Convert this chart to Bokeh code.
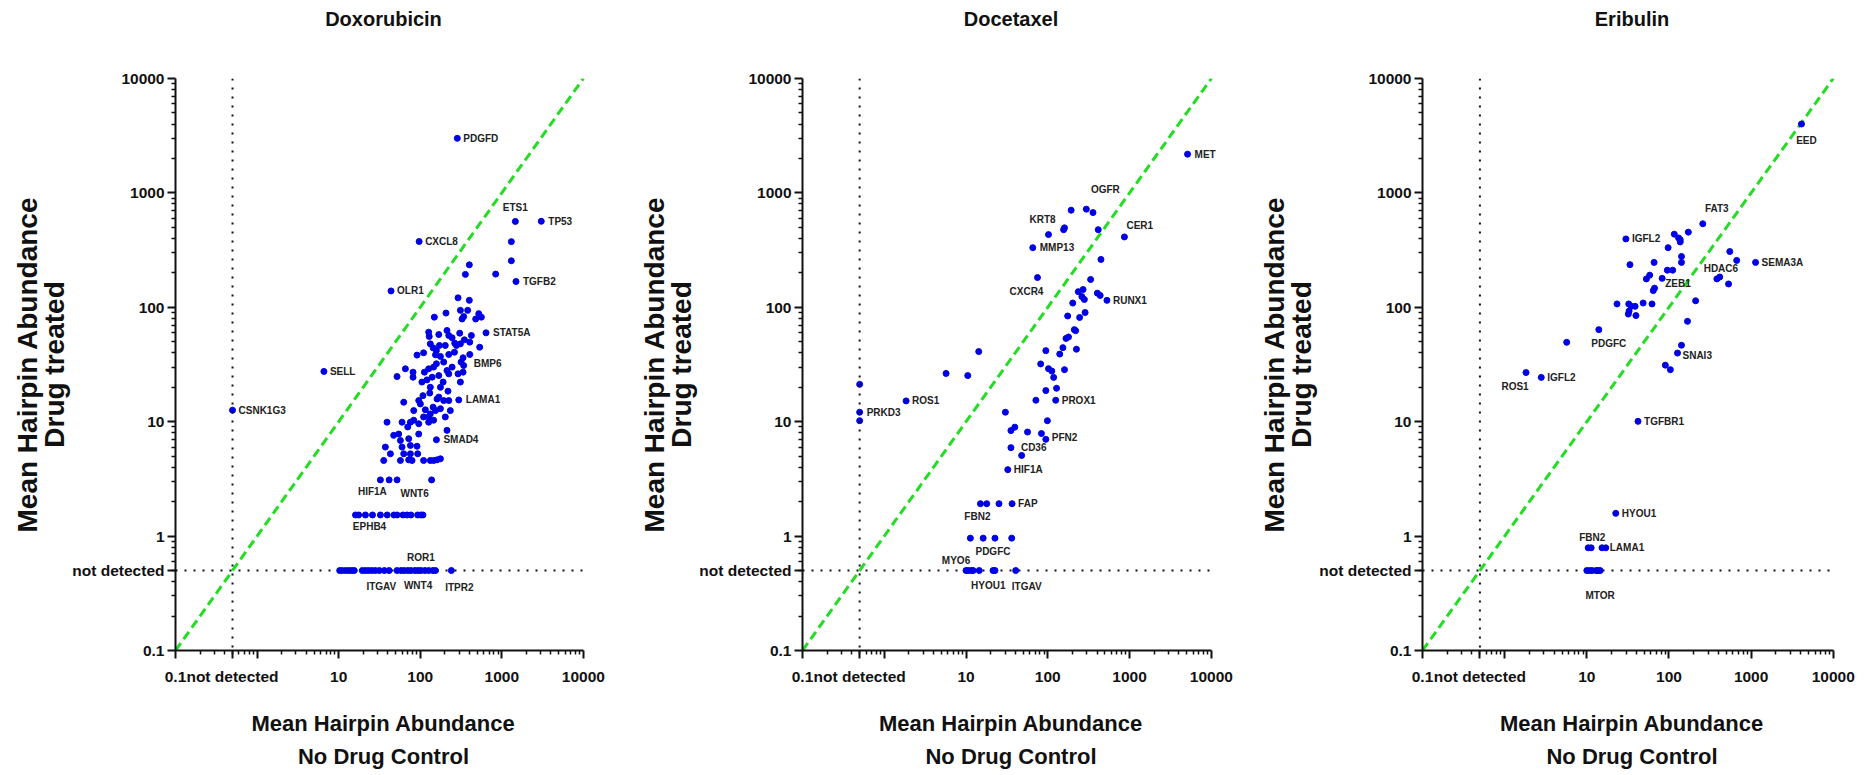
from bokeh.plotting import figure
from bokeh.models import FixedTicker, Span, ColumnDataSource, Title
from bokeh.layouts import row
from bokeh.embed import file_html
from bokeh.resources import INLINE
from bokeh.core.properties import value

FONT = "Liberation Sans"

# ---------------- axis ticks / labels ----------------
major_ticks = [0.1, 0.5, 1, 10, 100, 1000, 10000]
minor_ticks = [k * 10 ** e for e in range(-1, 4) for k in range(2, 10)]
y_tick_labels = {0.1: "0.1", 0.5: "not detected", 1: "1", 10: "10", 100: "100", 1000: "1000", 10000: "10000"}
x_tick_labels = {0.1: "0.1", 0.5: "not detected", 1: "", 10: "10", 100: "100", 1000: "1000", 10000: "10000"}
axis_limits = [0.1, 10000]
not_detected = 0.5

titles = ["Doxorubicin", "Docetaxel", "Eribulin"]
x_title = ["Mean Hairpin Abundance", "No Drug Control"]
y_title = ["Mean Hairpin Abundance", "Drug treated"]

# ---------------- Doxorubicin ----------------
dox_x = [1310, 1310, 400, 358, 842, 291, 400, 311, 382, 207, 149, 326, 341, 479, 522, 562,
         127, 129, 169, 213, 224, 246, 305, 348, 424,
         133, 144, 172, 203, 265, 278, 311, 405, 536,
         91.4, 110, 158, 154, 177, 224, 263, 335,
         65.8, 81.7, 112.6, 127, 146, 158, 194, 213, 246, 317, 341,
         52, 81.7, 105, 121, 140, 169, 191, 224, 291, 335, 311,
         62.8, 83.3, 95.9, 108, 131, 133, 177, 219, 194, 224,
         100.5, 115.7, 127, 144, 161, 169, 146, 133, 154, 177, 203, 234,
         39.2, 59.9, 75.8, 70.3, 83.3, 95.9, 110, 127, 213,
         47.3, 54.5, 57.2, 72.3, 95.9,
         37.4, 59.9, 75.8, 91.4,
         43.1, 62.8, 75.8, 93.2,
         35.7, 57.2, 72.3, 79.4, 110, 133, 146, 161, 177,
         41.6, 52,
         17.6, 21.3, 26, 32.5, 39.4, 47.6, 52, 61.5, 68.8, 76.9, 93, 102, 108,
         10.3, 11.1, 12.2, 13.3, 14.4, 15.5, 19.5, 21.3, 23.2, 25.4, 28.1, 36.4, 41.6, 52,
         58.2, 63.7, 70.4, 76.9, 86, 114, 127, 143, 154]
dox_y = [375, 255, 235, 194, 195, 121, 115, 94, 94, 89, 82, 79, 83, 79, 88, 82,
         60.6, 55.6, 57.8, 62.7, 56.7, 54.1, 59.4, 52, 56.7,
         47.9, 44.2, 46.4, 46.4, 48.6, 46.4, 47.9, 49.6, 44.8,
         38.2, 40, 41.9, 38.4, 37.2, 38.7, 40.5, 36.2,
         29, 27.1, 27.1, 29, 30, 32.1, 33.2, 28, 30, 33.2, 31,
         24.8, 24.5, 22.2, 23.2, 24.5, 25.3, 22.2, 26.2, 26.2, 27.1, 22.2,
         14.8, 12.5, 15.3, 16.9, 17.8, 20, 20, 18.5, 15.3, 15.3,
         14.3, 12.7, 11, 13.4, 15.8, 16.4, 10.3, 11.7, 12.5, 13, 11, 12.5,
         9.9, 9.9, 9.9, 9, 10.3, 9.6, 11, 9.9, 8.4,
         7.6, 7.8, 6.85, 7.1, 7.8,
         6.0, 6.0, 6.2, 6.1,
         5.24, 5.24, 5.24, 5.24,
         4.58, 4.58, 4.64, 4.58, 4.58, 4.58, 4.58, 4.64, 4.74,
         3.1, 3.1,
         1.53, 1.53, 1.53, 1.53, 1.53, 1.53, 1.53, 1.53, 1.53, 1.53, 1.53, 1.53, 1.53,
         0.5, 0.5, 0.5, 0.5, 0.5, 0.5, 0.5, 0.5, 0.5, 0.5, 0.5, 0.5, 0.5, 0.5,
         0.5, 0.5, 0.5, 0.5, 0.5, 0.5, 0.5, 0.5, 0.5]
dox_genes = ["PDGFD", "ETS1", "TP53", "CXCL8", "TGFB2", "OLR1", "STAT5A", "SELL", "BMP6", "LAMA1",
             "CSNK1G3", "SMAD4", "HIF1A", "WNT6", "EPHB4", "ROR1", "ITGAV", "WNT4", "ITPR2"]
dox_gene_x = [285, 1467, 3050, 97, 1493, 43.9, 641, 6.6, 405, 297, 0.5, 158, 32.5, 138, 16.1, 102, 31.5, 94.2, 241]
dox_gene_y = [3000, 563, 565, 376, 168, 139, 59.8, 27.5, 38.7, 15.5, 12.6, 6.95, 3.1, 3.1, 1.53, 0.5, 0.5, 0.5, 0.5]
# label placement (style): alignment and pixel offsets
dox_align = ["left", "center", "left", "left", "left", "left", "left", "left", "left", "left",
             "left", "left", "center", "center", "center", "center", "center", "center", "center"]
dox_dx = [6, 0, 7, 6, 7, 6, 7, 6, 4, 7, 6, 7, -8, -17, 14, 0, 2, 0, 8]
dox_dy = [0, -14, 0, 0, 0, 0, 0, 0, 9, 0, 0, 0, 12, 14, 12, -13, 16, 15, 17]

# ---------------- Docetaxel ----------------
doc_x = [193, 357, 156, 160, 414, 447, 334,
         236, 261, 280, 270, 404, 437, 202, 175, 245, 286, 211, 219, 179, 167, 153, 140, 224,
         94.6, 81.8, 102, 112, 118, 160, 94.6, 128, 71.5, 30.3, 35.4, 39.5, 56.5, 98.9, 83.6, 47.9,
         14.3, 5.7, 10.5, 0.5, 0.5,
         17.9, 25.3,
         11.3, 16.2, 36.2,
         10.7, 11.6, 12.2, 21.4, 22.6]
doc_y = [706, 673, 477, 495, 477, 262, 175,
         137, 124, 117, 143, 133, 127, 109, 84, 81.5, 90, 63.8, 62.5, 55, 53.5, 44.4, 39, 43,
         41.8, 32, 29.1, 27.7, 24.4, 28.5, 18.7, 19.6, 15.4, 12.1, 8.36, 8.96, 8.12, 10.2, 7.88, 5.07,
         41, 26.4, 25.3, 21.2, 10.2,
         1.92, 1.92,
         0.96, 0.96, 0.96,
         0.5, 0.5, 0.5, 0.5, 0.5]
doc_genes = ["MET", "OGFR", "KRT8", "CER1", "MMP13", "CXCR4", "RUNX1", "PROX1", "ROS1", "PRKD3",
             "PFN2", "CD36", "HIF1A", "FAP", "FBN2", "PDGFC", "MYO6", "HYOU1", "ITGAV"]
doc_gene_x = [5120, 296, 102, 865, 65.5, 74.8, 529, 125, 1.85, 0.5, 94.6, 35.4, 32.4, 36.6, 15.0, 22.6, 10.0, 14.5, 40.5]
doc_gene_y = [2180, 721, 432, 412, 332, 182, 115, 15.4, 15.2, 12.1, 7.01, 5.93, 3.81, 1.92, 1.92, 0.96, 0.5, 0.5, 0.5]
doc_align = ["left", "center", "center", "left", "left", "center", "left", "left", "left", "left",
             "left", "left", "left", "left", "center", "center", "center", "center", "center"]
doc_dx = [7, 19, -6, 2, 7, -11, 6, 6, 6, 7, 6, 10, 6, 6, -3, -2, -10, 9, 11]
doc_dy = [0, -20, -15, -11, 0, 14, 0, 0, 0, 0, -2, 0, 0, 0, 13, 13, -10, 15, 16]

# ---------------- Eribulin ----------------
eri_x = [116, 172, 131, 137, 137, 97.7, 550, 667, 33.5, 65.9, 142, 142, 95.5, 111, 415, 531,
         53.1, 58.2, 64.4, 66.7, 32.4, 23.3, 34.6, 38.7, 48.5, 62.2, 32, 32.7, 39.6, 211, 168,
         5.69, 142, 90.4, 104,
         11.3, 15.3,
         10.0, 10.8, 11.6, 13.0, 14.5]
eri_y = [436, 454, 404, 373, 390, 332, 307, 257, 236, 247, 278, 247, 211, 211, 184, 160,
         177, 191, 140, 147, 107, 107, 102, 102, 109, 107, 87.3, 92.7, 84.7, 114, 75.4,
         49.4, 46.6, 31.2, 28.5,
         0.79, 0.79,
         0.5, 0.5, 0.5, 0.5, 0.5]
eri_genes = ["EED", "FAT3", "IGFL2", "SEMA3A", "HDAC6", "ZEB1", "PDGFC", "SNAI3", "ROS1", "IGFL2",
             "TGFBR1", "HYOU1", "FBN2", "LAMA1", "MTOR"]
eri_gene_x = [4100, 258, 29.9, 1132, 383, 82.6, 14.0, 127, 1.82, 2.79, 42.0, 22.5, 10.4, 17.0, 13.7]
eri_gene_y = [4000, 537, 396, 247, 177, 179, 63.8, 39.8, 26.9, 24.4, 10.07, 1.58, 0.79, 0.79, 0.5]
eri_align = ["center", "center", "left", "left", "center", "left", "center", "left", "center", "left",
             "left", "left", "center", "left", "center"]
eri_dx = [5, 14, 6, 6, 4, 3, 10, 5, -11, 6, 6, 6, 4, 4, 2]
eri_dy = [16, -15, 0, 0, -10, 5, 14, 2, 14, 0, 0, 0, -10, 0, 25]

# ---------------- layout constants ----------------
FRAME_H = 572
X_EXTRA = 10 ** 4.1          # a little room right of the axis end for labels
BLUE = "#0000e6"
GREEN = "#22dd22"
INK = "#111111"


def make_panel(title, xs, ys, gnames, gx, gy, galign, gdx, gdy, frame_w, left_border, right_border):
    p = figure(title=None, x_axis_type="log", y_axis_type="log",
               x_range=(axis_limits[0], X_EXTRA), y_range=(axis_limits[0], axis_limits[1]),
               frame_width=frame_w, frame_height=FRAME_H,
               min_border_left=left_border, min_border_right=right_border,
               min_border_top=78, min_border_bottom=120,
               output_backend="svg", toolbar_location=None)
    p.outline_line_color = None
    p.grid.visible = False
    p.background_fill_color = "white"
    p.border_fill_color = "white"

    # spacer between frame and the panel title, then the title itself
    p.add_layout(Title(text=" ", text_font_size="10px", standoff=36), "above")
    p.add_layout(Title(text=title, align="center", text_font=FONT, text_font_style="bold",
                       text_font_size="20px", text_color=INK, standoff=0), "above")

    for ax, labels in ((p.xaxis, x_tick_labels), (p.yaxis, y_tick_labels)):
        ax.ticker = FixedTicker(ticks=major_ticks, minor_ticks=minor_ticks)
        ax.major_label_overrides = labels
        ax.bounds = (axis_limits[0], axis_limits[1])
        ax.axis_line_width = 2
        ax.axis_line_color = INK
        ax.major_tick_line_width = 2
        ax.major_tick_line_color = INK
        ax.minor_tick_line_width = 1.5
        ax.minor_tick_line_color = INK
        ax.major_tick_out = 8
        ax.major_tick_in = 0
        ax.minor_tick_out = 4
        ax.minor_tick_in = 0
        ax.major_label_text_font = FONT
        ax.major_label_text_font_style = "bold"
        ax.major_label_text_font_size = "15.5px"
        ax.major_label_text_color = INK
        ax.axis_label_text_font = FONT
        ax.axis_label_text_font_style = "bold"
        ax.axis_label_text_color = INK
    p.xaxis.major_label_standoff = 9
    p.yaxis.major_label_standoff = 3

    p.xaxis.axis_label = "\n".join(x_title)
    p.xaxis.axis_label_text_font_size = "22px"
    p.xaxis.axis_label_text_line_height = 1.33
    p.xaxis.axis_label_standoff = 23

    p.yaxis.axis_label = "\n".join(y_title)
    p.yaxis.axis_label_text_font_size = "28px"
    p.yaxis.axis_label_text_line_height = 0.87
    p.yaxis.axis_label_standoff = -1

    # reference lines
    p.add_layout(Span(location=not_detected, dimension="height", line_color=INK,
                      line_width=2, line_dash="2 7"))
    p.line(axis_limits, [not_detected, not_detected], line_color=INK, line_width=2, line_dash="2 7")
    p.line(axis_limits, axis_limits, line_color=GREEN, line_width=3, line_dash="9 5")

    # points
    p.scatter(xs + gx, ys + gy, size=6, color=BLUE, marker="circle")

    # gene labels
    for al in ("left", "center"):
        idx = [i for i, a in enumerate(galign) if a == al]
        src = ColumnDataSource(dict(x=[gx[i] for i in idx], y=[gy[i] for i in idx],
                                    t=[gnames[i] for i in idx],
                                    dx=[gdx[i] for i in idx], dy=[gdy[i] for i in idx]))
        p.text(x="x", y="y", text="t", x_offset="dx", y_offset="dy", source=src,
               text_align=al, text_baseline="middle", text_font=value(FONT),
               text_font_style="bold", text_font_size="10px", text_color="#222222")
    return p


p1 = make_panel(titles[0], dox_x, dox_y, dox_genes, dox_gene_x, dox_gene_y, dox_align, dox_dx, dox_dy, 416, 175, 44)
p2 = make_panel(titles[1], doc_x, doc_y, doc_genes, doc_gene_x, doc_gene_y, doc_align, doc_dx, doc_dy, 417, 167, 36)
p3 = make_panel(titles[2], eri_x, eri_y, eri_genes, eri_gene_x, eri_gene_y, eri_align, eri_dx, eri_dy, 419, 167, 20)

layout = row(p1, p2, p3)
open("out.html", "w").write(file_html(layout, INLINE))
